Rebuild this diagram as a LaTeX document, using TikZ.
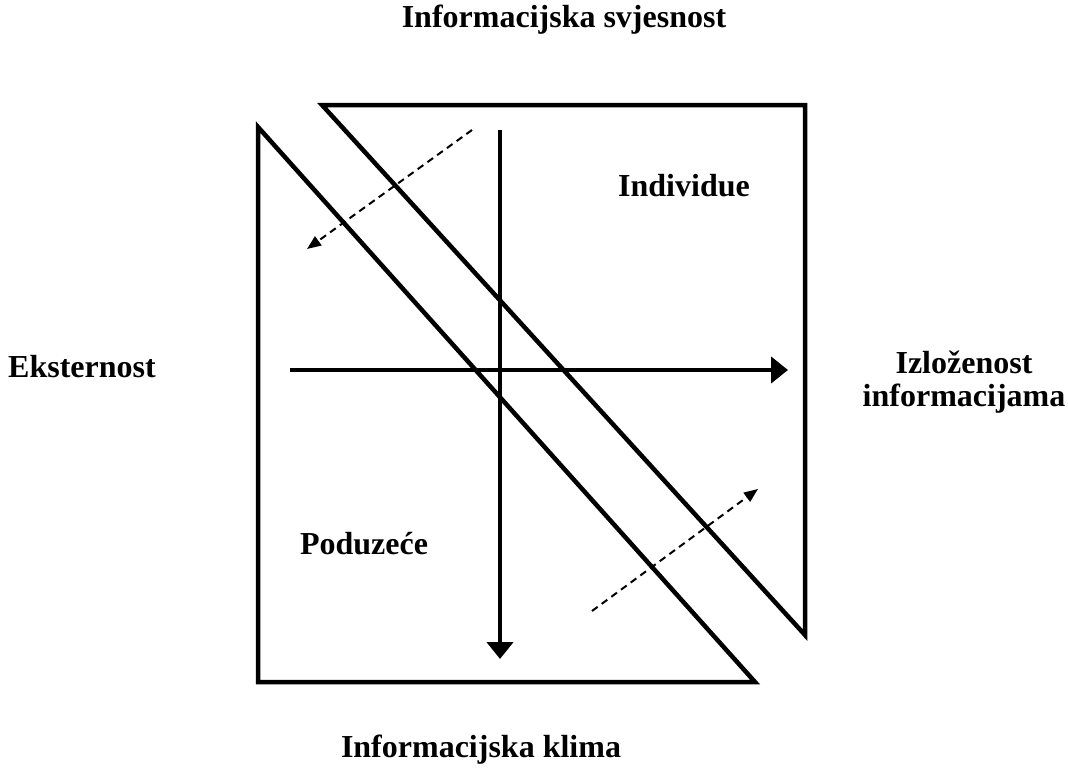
\documentclass[tikz,border=0pt]{standalone}
\usepackage{fontspec}
\setmainfont{Liberation Serif}
\usepackage{tikz}
\usetikzlibrary{arrows.meta}

\begin{document}
\begin{tikzpicture}[x=1pt, y=-1pt, >={Triangle[length=17pt,width=26pt]},
    label/.style={font=\fontsize{32}{33}\selectfont\bfseries, align=center, inner sep=0pt},
    thick line/.style={line width=4.5pt},
    dashed arrow/.style={line width=2pt, dash pattern=on 7pt off 5pt, -{Triangle[length=14pt,width=11pt]}}]
    \useasboundingbox (0,0) rectangle (1068,768);

    % the two triangles
    \draw[thick line, line join=miter] (322,105) -- (805,105) -- (805,635) -- cycle;
    \draw[thick line, line join=miter] (258,127) -- (258,682) -- (755,682) -- cycle;

    % axes
    \coordinate (vtop) at (500,130);
    \coordinate (vbot) at (500,659);
    \coordinate (hleft) at (290,370);
    \coordinate (hright) at (788,370);
    \draw[thick line, ->] (vtop) -- (vbot);
    \draw[thick line, ->] (hleft) -- (hright);

    % flows
    \coordinate (ulstart) at (472,130);
    \coordinate (ulend) at (307,249);
    \coordinate (lrstart) at (592,611);
    \coordinate (lrend) at (758,489);
    \draw[dashed arrow] (ulstart) -- (ulend);
    \draw[dashed arrow] (lrstart) -- (lrend);

    \node[label] (svjesnost) at (564,20) {Informacijska svjesnost};
    \node[label] (individue) at (684,186) {Individue};
    \node[label] (eksternost) at (82,367) {Eksternost};
    \node[label] (izlozenost) at (964,382) {Izloženost\\informacijama};
    \node[label] (poduzece) at (364,544) {Poduzeće};
    \node[label] (klima) at (481,750) {Informacijska klima};
\end{tikzpicture}
\end{document}
